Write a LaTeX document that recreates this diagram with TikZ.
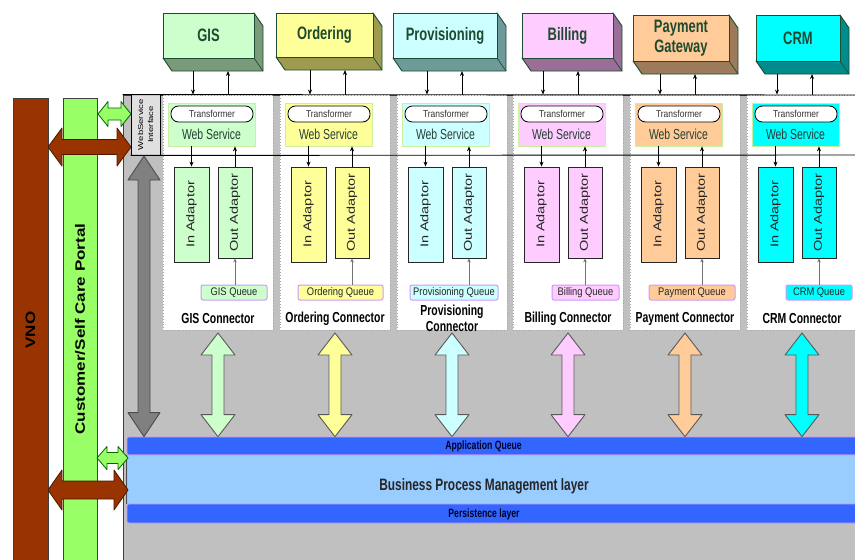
\documentclass[tikz,border=0pt]{standalone}
\usepackage{graphicx}
\usepackage{fontspec}
\setmainfont{Liberation Sans}
\newfontfamily\fc[FakeStretch=0.72]{Liberation Sans}
\newfontfamily\fn[FakeStretch=0.85]{Liberation Sans}
\usetikzlibrary{arrows.meta,calc,fit}

\definecolor{vno}{HTML}{993300}
\definecolor{portal}{HTML}{99FF66}
\definecolor{bg}{HTML}{C0C0C0}
\definecolor{aqc}{HTML}{3366FF}
\definecolor{bpmc}{HTML}{99CCFF}
\definecolor{qborder}{HTML}{CC99FF}
\definecolor{gisF}{HTML}{CCFFCC}\definecolor{gisD}{HTML}{7A9A7A}
\definecolor{ordF}{HTML}{FFFF99}\definecolor{ordD}{HTML}{9E9A50}
\definecolor{provF}{HTML}{CCFFFF}\definecolor{provD}{HTML}{6F9A9A}
\definecolor{billF}{HTML}{FFCCFF}\definecolor{billD}{HTML}{9A6E96}
\definecolor{payF}{HTML}{FFCC99}\definecolor{payD}{HTML}{9C7A5A}
\definecolor{crmF}{HTML}{00FFFF}\definecolor{crmD}{HTML}{008C8C}
\definecolor{boxline}{HTML}{1A4D33}
\definecolor{titletxt}{HTML}{1F4A30}
\definecolor{wstxt}{HTML}{263F36}
\definecolor{wsline}{HTML}{CCF0A0}

% vertical double block arrow: style, top tip, bottom tip, half shaft, half head, head length
\newcommand{\vdarrow}[6]{%
  \draw[#1] (#2) -- ($(#2)+(#5,#6)$) -- ($(#2)+(#4,#6)$) -- ($(#3)+(#4,-#6)$) -- ($(#3)+(#5,-#6)$) -- (#3)
    -- ($(#3)+(-#5,-#6)$) -- ($(#3)+(-#4,-#6)$) -- ($(#2)+(-#4,#6)$) -- ($(#2)+(-#5,#6)$) -- cycle;}
% horizontal double block arrow: style, left tip, right tip, half shaft, half head, head length
\newcommand{\hdarrow}[6]{%
  \draw[#1] (#2) -- ($(#2)+(#6,-#5)$) -- ($(#2)+(#6,-#4)$) -- ($(#3)+(-#6,-#4)$) -- ($(#3)+(-#6,-#5)$) -- (#3)
    -- ($(#3)+(-#6,#5)$) -- ($(#3)+(-#6,#4)$) -- ($(#2)+(#6,#4)$) -- ($(#2)+(#6,#5)$) -- cycle;}

\begin{document}
\begin{tikzpicture}[x=1pt,y=-1pt,
  arr/.style={-{Stealth[length=5pt,width=4pt]}, line width=0.8pt},
  qarr/.style={-{Stealth[length=4pt,width=3.5pt]}, line width=0.8pt, draw=black!55},
  panelbox/.style={fill=white, draw=black!35, dotted, line width=0.9pt, inner sep=0pt},
  topbox/.style={draw=boxline, line width=0.9pt, inner sep=0pt},
  wsbox/.style={draw=wsline, line width=0.7pt, inner sep=0pt},
  pill/.style={fill=white, draw=black, line width=0.8pt, rounded corners=7.5pt, inner sep=0pt},
  adapt/.style={draw=black!85, line width=0.8pt, inner sep=0pt},
  queuebox/.style={draw=qborder, line width=1pt, rounded corners=2pt, inner sep=0pt},
  band/.style={draw=qborder, line width=0.7pt, rounded corners=2pt, inner sep=0pt},
  bar/.style={draw=black!75, line width=0.8pt, inner sep=0pt},
  titlefont/.style={font=\fc\bfseries\fontsize{18}{19.5}\selectfont, text=titletxt, align=center, inner sep=0pt},
  trfont/.style={font=\fn\fontsize{10}{11}\selectfont, text=black!80, inner sep=0pt},
  wsfont/.style={font=\fc\fontsize{14.5}{16}\selectfont, text=wstxt, inner sep=0pt},
  adfont/.style={font=\fontsize{14.5}{16}\selectfont, text=black!85, rotate=90, inner sep=0pt},
  qfont/.style={font=\fn\fontsize{11}{12}\selectfont, text=black!85, inner sep=0pt},
  connfont/.style={font=\fc\bfseries\fontsize{14.5}{16}\selectfont, align=center, inner sep=0pt},
  bandfont/.style={font=\fc\bfseries\fontsize{12}{13}\selectfont, text=black!85!blue, inner sep=0pt},
  bigfont/.style={font=\fc\bfseries\fontsize{16.5}{18}\selectfont, text=black!85, inner sep=0pt},
  sidefont/.style={font=\bfseries\fontsize{17}{18}\selectfont, rotate=90, inner sep=0pt},
]
\useasboundingbox (0,0) rectangle (855,560);
\fill[white] (0,0) rectangle (855,560);

% side bars
\node[bar, fill=vno, fit={(13,98) (48,563)}] (vno) {};
\node[sidefont] at (30.5,330) {\scalebox{1}[0.8]{VNO}};
\node[bar, fill=portal, fit={(63,98) (97,563)}] (portal) {};
\node[sidefont] at (80,329) {\scalebox{1}[0.8]{Customer/Self Care Portal}};

% gray platform
\node[bar, fill=bg, fit={(123,95) (862,563)}] (plat) {};
\node[draw=black, line width=0.8pt, fill=black!12, inner sep=0pt, fit={(131,94) (160,155)}] (wsi) {};
\node[rotate=90, font=\fontsize{9.5}{10}\selectfont, align=center, inner sep=0pt] at (wsi) {\scalebox{1}[0.75]{WebService}\\\scalebox{1}[0.75]{Interface}};

% connector panels
\foreach \i/\L in {0/163,1/280,2/397,3/513,4/630,5/747}{
  \node[panelbox, fit={(\L,95) (\L+110,330)}] (pn\i) {};
}
\coordinate (lineA) at (862,95);
\coordinate (lineB) at (862,155);
\draw[line width=0.9pt] (plat.north west) -- (lineA);
\draw[line width=0.9pt] (wsi.south west) -- (lineB);

% bands
\node[band, fill=aqc, fit={(127,437) (864,455)}] (aq) {};
\node[band, fill=bpmc, fit={(127,455) (864,504)}] (bpm) {};
\node[band, fill=aqc, fit={(127,504) (864,523)}] (pl) {};
\draw[black!70, line width=0.8pt] (bpm.north west) -- (bpm.south west);
\node[bandfont] at (483.5,446) {Application Queue};
\node[bigfont] at (484,486) {Business Process Management layer};
\node[bandfont] at (484,514) {Persistence layer};

% columns
\foreach \i/\L/\cf/\cd/\ttl/\bx/\bX/\by/\bY/\qa/\qb/\qt/\ct in {
 0/163/gisF/gisD/GIS/163/254/13/58/201/267/GIS Queue/GIS Connector,
 1/280/ordF/ordD/Ordering/276/373/13/57/298/383/Ordering Queue/Ordering Connector,
 2/397/provF/provD/Provisioning/393/497/13/58/410/498/Provisioning Queue/{Provisioning\\Connector},
 3/513/billF/billD/Billing/522/613/13/58/552/619/Billing Queue/Billing Connector,
 4/630/payF/payD/{Payment\\Gateway}/633/729/15/61/649/735/Payment Queue/Payment Connector,
 5/747/crmF/crmD/CRM/756/840/15/61/786/852/CRM Queue/CRM Connector}{
  % 3D system box
  \filldraw[fill=\cd, draw=boxline, line width=0.9pt, line join=round]
    (\bx,\bY) -- (\bx+9,\bY+13) -- (\bX+9,\bY+13) -- (\bX+9,\by+13) -- (\bX,\by) -- cycle;
  \draw[boxline, line width=0.7pt] (\bX,\bY) -- (\bX+9,\bY+13);
  \node[topbox, fill=\cf, fit={(\bx,\by) (\bX,\bY)}] (tb\i) {};
  \node[titlefont] at (tb\i) {\ttl};
  \coordinate (td\i) at (\L+30,\bY+13);
  \coordinate (tu\i) at (\L+65,\bY+13);
  \draw[arr] (td\i) -- (td\i |- pn\i.north);
  \draw[arr] (tu\i |- pn\i.north) -- (tu\i);
  % web service
  \node[wsbox, fill=\cf, fit={(\L+5,103) (\L+92,146)}] (ws\i) {};
  \node[pill, fit={(\L+8,106) (\L+90,122)}] (tr\i) {};
  \node[trfont] at (tr\i) {Transformer};
  \node[wsfont] at (\L+48.5,134) {Web Service};
  % adaptors
  \node[adapt, fill=\cf, fit={(\L+11,167) (\L+46,262)}] (ia\i) {};
  \node[adfont] at (ia\i) {\scalebox{1}[0.78]{In Adaptor}};
  \node[adapt, fill=\cf, fit={(\L+55,167) (\L+89,258)}] (oa\i) {};
  \node[adfont] at (oa\i) {\scalebox{1}[0.78]{Out Adaptor}};
  \draw[arr] (ia\i.north |- ws\i.south) -- (ia\i.north);
  \draw[arr] (oa\i.north) -- (oa\i.north |- ws\i.south);
  % queue
  \node[queuebox, fill=\cf, fit={(\qa,285) (\qb,300)}] (q\i) {};
  \node[qfont] at (q\i) {\qt};
  \draw[qarr] (oa\i.south |- q\i.north) -- (oa\i.south);
  % connector label
  \node[connfont] (cl\i) at (\L+55,318.5) {\ct};
  % block arrow to application queue
  \coordinate (da\i) at (\L+55,333);
  \coordinate (db\i) at (da\i |- aq.north);
  \vdarrow{fill=\cf, draw=black!65, line width=0.9pt, line join=round}{da\i}{db\i}{6}{17}{22}
}

% gray block arrow under web service interface
\coordinate (ga) at (144,156);
\coordinate (gb) at (ga |- aq.north);
\vdarrow{fill=black!50, draw=black!70, line width=0.9pt, line join=round}{ga}{gb}{6}{16}{24}

% side connections
\coordinate (g1L) at (98,114);
\coordinate (g1R) at (131,114);
\coordinate (b1L) at (48,147);
\coordinate (b1R) at (131,147);
\coordinate (g2L) at (97,458);
\coordinate (g2R) at (128,458);
\coordinate (b2L) at (48,490);
\coordinate (b2R) at (128,490);
\hdarrow{fill=portal, draw=green!40!black, line width=0.8pt, line join=round}{g1L}{g1R}{6}{12.5}{10}
\hdarrow{fill=vno, draw=black!50!vno, line width=0.8pt, line join=round}{b1L}{b1R}{7.5}{19}{14}
\hdarrow{fill=portal, draw=green!40!black, line width=0.8pt, line join=round}{g2L}{g2R}{5.5}{11.5}{10}
\hdarrow{fill=vno, draw=black!50!vno, line width=0.8pt, line join=round}{b2L}{b2R}{9}{20}{14}
\end{tikzpicture}
\end{document}
